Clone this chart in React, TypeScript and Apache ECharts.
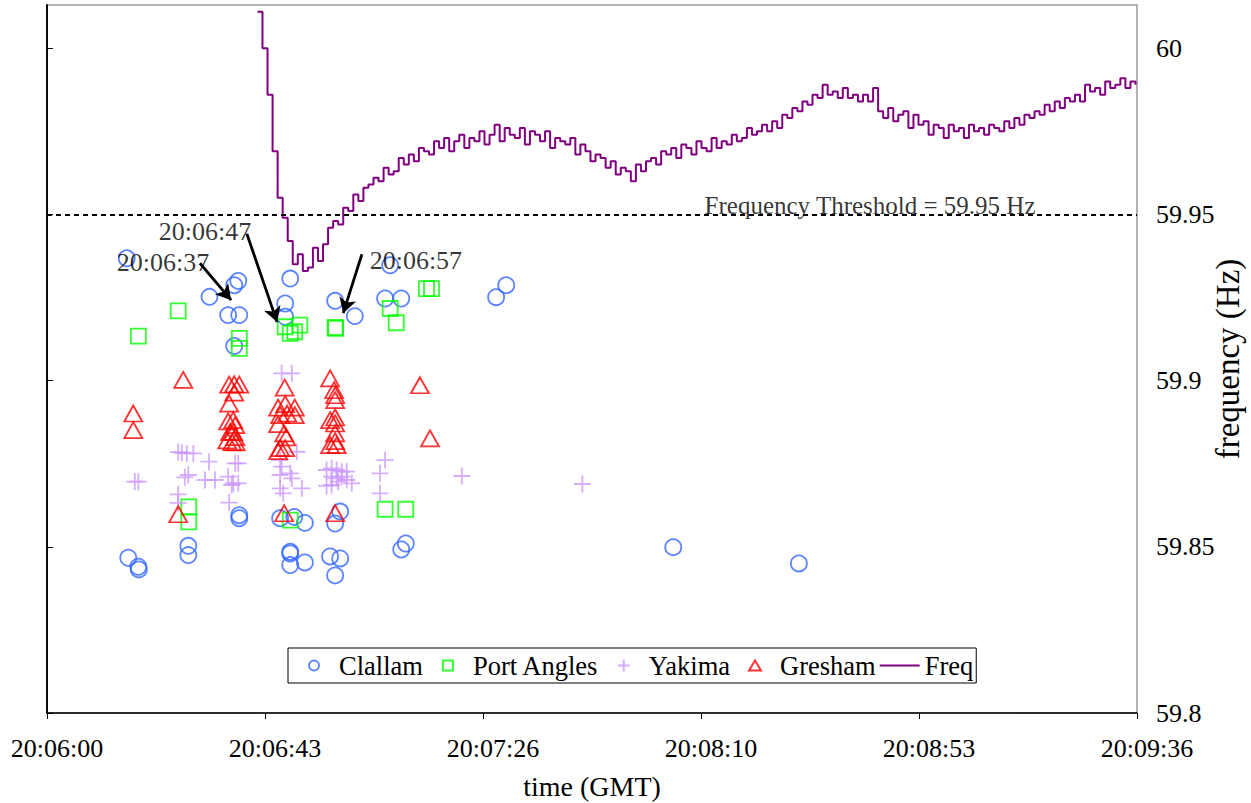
import React, { useEffect, useRef } from 'react';
import * as echarts from 'echarts';

const FONT = '"Liberation Serif", "Times New Roman", serif';

// x axis: seconds after 20:06:00 GMT
const xTickSeconds = [0, 43.2, 86.4, 129.6, 172.8, 216];
const yTickValues = [59.8, 59.85, 59.9, 59.95, 60];

const clallam: [number, number][] = [
  [15.8, 59.9368], [32.2, 59.9252], [37.1, 59.9287], [37.9, 59.93], [35.9, 59.9197], [38.1, 59.9197],
  [37.1, 59.9104], [48.2, 59.9307], [47.2, 59.9232], [47.2, 59.9192], [57.1, 59.924], [61.0, 59.9194],
  [68.0, 59.9347], [67.0, 59.9247], [70.2, 59.9247], [89.0, 59.9251], [91.0, 59.9287],
  [16.1, 59.8467], [18.1, 59.844], [18.2, 59.8432], [28.0, 59.8503], [28.0, 59.8475], [38.1, 59.8595],
  [38.1, 59.8586], [46.2, 59.8586], [49.0, 59.859], [51.1, 59.8572], [48.2, 59.8485], [48.2, 59.848],
  [48.2, 59.8445], [51.1, 59.8453], [56.1, 59.8471], [58.1, 59.8465], [57.1, 59.8414], [58.1, 59.8606],
  [57.1, 59.857], [70.2, 59.8492], [71.1, 59.851], [124.1, 59.8499], [149.0, 59.845],
];

const portAngles: [number, number][] = [
  [26.0, 59.921], [18.1, 59.9134], [38.1, 59.9127], [38.1, 59.9097], [47.2, 59.9162], [48.2, 59.9142],
  [49.1, 59.9147], [50.1, 59.9167], [57.1, 59.916], [57.2, 59.9157], [68.0, 59.9217], [69.2, 59.9174],
  [75.2, 59.9277], [76.2, 59.9277], [28.1, 59.862], [28.1, 59.8575], [48.2, 59.858], [67.0, 59.8613],
  [71.1, 59.8613],
];

const yakima: [number, number][] = [
  [17.4, 59.8696], [18.1, 59.8696], [26.0, 59.8785], [26.7, 59.8783], [27.7, 59.8781], [29.0, 59.8781],
  [27.3, 59.8709], [28.0, 59.8716], [26.0, 59.8658], [26.0, 59.8632], [31.3, 59.8701], [33.3, 59.8701],
  [32.1, 59.8756], [35.9, 59.8711], [36.6, 59.8686], [37.3, 59.8751], [37.9, 59.8751], [36.9, 59.8691],
  [37.9, 59.8691], [36.1, 59.8633], [46.5, 59.9022], [48.5, 59.9022], [46.2, 59.8761], [46.5, 59.8741],
  [46.2, 59.8716], [48.2, 59.8721], [49.5, 59.8786], [48.5, 59.8706], [46.2, 59.8676], [46.8, 59.8661],
  [50.5, 59.8676], [55.4, 59.8731], [56.4, 59.8736], [57.4, 59.8731], [58.4, 59.8726], [59.4, 59.8726],
  [56.4, 59.8711], [57.4, 59.8706], [58.4, 59.8711], [56.4, 59.8686], [57.7, 59.8696], [60.4, 59.8691],
  [55.4, 59.8683], [59.4, 59.8701], [67.0, 59.8761], [66.0, 59.8721], [66.0, 59.8661], [82.2, 59.8713],
  [106.1, 59.8689],
];

const gresham: [number, number][] = [
  [17.1, 59.8901], [17.1, 59.8851], [27.0, 59.9002], [26.0, 59.8598],
  [36.1, 59.8988], [37.1, 59.8989], [38.1, 59.8988], [37.1, 59.8964], [36.1, 59.8931], [35.9, 59.8877],
  [36.9, 59.8881], [37.3, 59.8866], [36.3, 59.8846], [36.9, 59.8845], [37.3, 59.883], [35.7, 59.882],
  [36.7, 59.8815], [37.4, 59.8814],
  [47.1, 59.8979], [45.8, 59.8919], [47.2, 59.8929], [49.1, 59.8919], [46.2, 59.8896], [47.6, 59.8901],
  [49.1, 59.8896], [45.8, 59.8869], [47.0, 59.8841], [47.4, 59.8829], [46.2, 59.8797], [47.2, 59.8797],
  [45.8, 59.8788], [47.0, 59.8601],
  [56.1, 59.9007], [56.9, 59.8971], [57.1, 59.8956], [57.1, 59.8941], [56.1, 59.8881], [57.1, 59.8889],
  [57.1, 59.8871], [57.1, 59.8841], [57.1, 59.8818], [56.1, 59.8806], [57.4, 59.8806], [57.1, 59.8601],
  [73.9, 59.8986], [75.9, 59.8826],
];

// Frequency, one reading per second starting at freqStartSec
const freqStartSec = 41.7;
const freqValues = [
  60.011, 60.0, 59.986, 59.969, 59.955, 59.949, 59.942, 59.935,
  59.938, 59.933, 59.934, 59.94, 59.936, 59.941, 59.946, 59.948, 59.947, 59.952, 59.951, 59.956,
  59.954, 59.958, 59.959, 59.961, 59.96, 59.964, 59.962, 59.963, 59.967, 59.965,
  59.968, 59.966, 59.97, 59.969, 59.968, 59.972, 59.97, 59.973, 59.969, 59.972,
  59.974, 59.97, 59.973, 59.972, 59.975, 59.971, 59.974, 59.977, 59.972, 59.976,
  59.974, 59.973, 59.976, 59.971, 59.975, 59.974, 59.972, 59.975, 59.97, 59.973,
  59.972, 59.971, 59.973, 59.968, 59.971, 59.969, 59.966, 59.968, 59.967, 59.964,
  59.966, 59.962, 59.964, 59.963, 59.96, 59.965, 59.963, 59.966, 59.967, 59.965,
  59.969, 59.968, 59.97, 59.967, 59.971, 59.97, 59.968, 59.972, 59.97, 59.969,
  59.973, 59.97, 59.972, 59.971, 59.974, 59.972, 59.973, 59.976, 59.974, 59.975,
  59.977, 59.975, 59.978, 59.976, 59.98, 59.979, 59.982, 59.981, 59.984, 59.983,
  59.986, 59.985, 59.989, 59.986, 59.987, 59.985, 59.988, 59.985, 59.986, 59.984,
  59.986, 59.984, 59.988, 59.981, 59.979, 59.982, 59.978, 59.98, 59.981, 59.976,
  59.98, 59.977, 59.978, 59.974, 59.977, 59.976, 59.973, 59.977, 59.975, 59.976,
  59.973, 59.977, 59.975, 59.976, 59.974, 59.977, 59.976, 59.975, 59.978, 59.976,
  59.979, 59.977, 59.98, 59.979, 59.981, 59.98, 59.983, 59.981, 59.984, 59.982,
  59.985, 59.984, 59.986, 59.984, 59.989, 59.987, 59.988, 59.986, 59.99, 59.988,
  59.989, 59.991, 59.988, 59.99, 59.989,
];

const threshold = 59.95;
const thresholdLabel = 'Frequency Threshold = 59.95 Hz';
const thresholdLabelAt: [number, number] = [163.1, 59.95];

const annotationTexts = ['20:06:37', '20:06:47', '20:06:57'];
const annotationTextAt: [number, number][] = [[23.0, 59.9356], [31.3, 59.945], [73.1, 59.936]];
const arrowFrom: [number, number][] = [[30.3, 59.9353], [39.6, 59.9442], [62.4, 59.938]];
const arrowTo: [number, number][] = [[36.5, 59.9242], [45.6, 59.9176], [58.7, 59.9203]];

const PLUS = 'path://M0,5L10,5M5,0L5,10';
// legend icons padded to a 40x12 box
const ICON_CIRCLE = 'path://M0,0M40,12M25,6A5,5,0,1,1,15,6A5,5,0,1,1,25,6Z';
const ICON_SQUARE = 'path://M0,0M40,12M15,1L25,1L25,11L15,11Z';
const ICON_PLUS = 'path://M0,0M40,12M14,6L26,6M20,0L20,12';
const ICON_TRIANGLE = 'path://M0,0M40,12M20,1L26,11L14,11Z';
const ICON_LINE = 'path://M0,0M40,12M0,5L40,5L40,7L0,7Z';

function fmtTime(v: number) {
  const total = 20 * 3600 + 6 * 60 + Math.round(v);
  const h = Math.floor(total / 3600);
  const m = Math.floor((total % 3600) / 60);
  const s = total % 60;
  const p = (n: number) => (n < 10 ? '0' + n : '' + n);
  return `${p(h)}:${p(m)}:${p(s)}`;
}

export default function App() {
  const ref = useRef<HTMLDivElement>(null);
  useEffect(() => {
    if (!ref.current) return;
    const chart = echarts.init(ref.current, null, { renderer: 'svg' });
    const hollow = (c: string) => ({ color: 'rgba(0,0,0,0)', borderColor: c, borderWidth: 1.8 });
    const text = { fontFamily: FONT, color: '#000' };
    chart.setOption({
      animation: false,
      backgroundColor: '#fff',
      grid: {
        left: 47, right: 114, top: 5, bottom: 90,
        show: true, borderColor: '#999', borderWidth: 1.5, backgroundColor: 'transparent',
        outerBoundsMode: 'none',
      },
      xAxis: {
        type: 'value', min: 0, max: 216, interval: 43.2,
        name: 'time (GMT)', nameLocation: 'middle', nameGap: 59, nameMoveOverlap: false,
        nameTextStyle: { ...text, fontSize: 28 },
        axisLine: { show: true, lineStyle: { color: '#000', width: 1.5 } },
        axisTick: { show: true, inside: false, length: 6, lineStyle: { color: '#000' }, customValues: xTickSeconds },
        axisLabel: {
          ...text, fontSize: 26, margin: 22, padding: [0, 0, 0, 20],
          formatter: (v: number) => fmtTime(v), customValues: xTickSeconds,
        },
        splitLine: { show: false },
      },
      yAxis: [
        {
          type: 'value', min: 59.8, max: 60.013, position: 'right',
          name: 'frequency (Hz)', nameLocation: 'middle', nameGap: 74, nameRotate: 90, nameMoveOverlap: false,
          nameTextStyle: { ...text, fontSize: 33 },
          axisLine: { show: true, lineStyle: { color: '#000', width: 1.5 } },
          axisTick: { show: true, inside: false, length: 6, lineStyle: { color: '#000' }, customValues: yTickValues },
          axisLabel: {
            ...text, fontSize: 26, margin: 19,
            formatter: (v: number) => String(Math.round(v * 100) / 100), customValues: yTickValues,
          },
          splitLine: { show: false },
        },
        {
          type: 'value', min: 59.8, max: 60.013, position: 'left',
          axisLine: { show: true, lineStyle: { color: '#000', width: 1.5 } },
          axisTick: { show: false }, axisLabel: { show: false }, splitLine: { show: false },
        },
      ],
      legend: {
        data: [
          { name: 'Clallam', icon: ICON_CIRCLE },
          { name: 'Port Angles', icon: ICON_SQUARE },
          { name: 'Yakima', icon: ICON_PLUS },
          { name: 'Gresham', icon: ICON_TRIANGLE },
          { name: 'Freq', icon: ICON_LINE, itemStyle: { color: '#800080', borderWidth: 0 } },
        ],
        left: 288, top: 648, itemWidth: 40, itemHeight: 12, itemGap: 4,
        padding: [4, 3, 4, 5], borderColor: '#000', borderWidth: 1, backgroundColor: '#fff',
        textStyle: { ...text, fontSize: 26.5 },
        selectedMode: false,
      },
      series: [
        {
          name: 'Clallam', type: 'scatter', symbol: 'circle', symbolSize: 16,
          itemStyle: hollow('#3366FF'), data: clallam,
        },
        {
          name: 'Port Angles', type: 'scatter', symbol: 'rect', symbolSize: 15,
          itemStyle: hollow('#00FF00'), data: portAngles,
        },
        {
          name: 'Yakima', type: 'scatter', symbol: PLUS, symbolSize: 17,
          itemStyle: hollow('#CC99FF'), data: yakima,
        },
        {
          name: 'Gresham', type: 'scatter', symbol: 'triangle', symbolSize: [18, 16],
          itemStyle: hollow('#FF0000'), data: gresham,
        },
        {
          name: 'Freq', type: 'line', step: 'end', showSymbol: false, symbol: 'none',
          lineStyle: { color: '#800080', width: 2 }, itemStyle: { color: '#800080' },
          data: freqValues.map((v, i) => [freqStartSec + i, v]),
        },
        {
          name: 'threshold', type: 'scatter', symbolSize: 0, silent: true, z: 5,
          data: [thresholdLabelAt],
          label: { show: true, position: 'inside', formatter: thresholdLabel, ...text, fontSize: 25, offset: [0, -9] },
          markLine: {
            silent: true, symbol: 'none', label: { show: false },
            lineStyle: { color: '#000', width: 2, type: [5, 4] },
            data: [{ yAxis: threshold }],
          },
        },
        {
          name: 'annotations', type: 'scatter', symbolSize: 0, silent: true, z: 6,
          data: annotationTextAt.map((p, i) => ({ value: p, name: annotationTexts[i] })),
          label: { show: true, position: 'inside', formatter: '{b}', ...text, fontSize: 26 },
          markLine: {
            silent: true, symbol: ['none', 'arrow'], symbolSize: [13, 15], label: { show: false },
            lineStyle: { color: '#000', width: 2.8, type: 'solid' },
            data: arrowFrom.map((f, i) => [{ coord: f }, { coord: arrowTo[i] }]),
          },
        },
      ],
    });
    return () => chart.dispose();
  }, []);
  return <div ref={ref} style={{ position: 'fixed', left: 0, top: 0, width: 1251, height: 803, background: '#fff' }} />;
}
